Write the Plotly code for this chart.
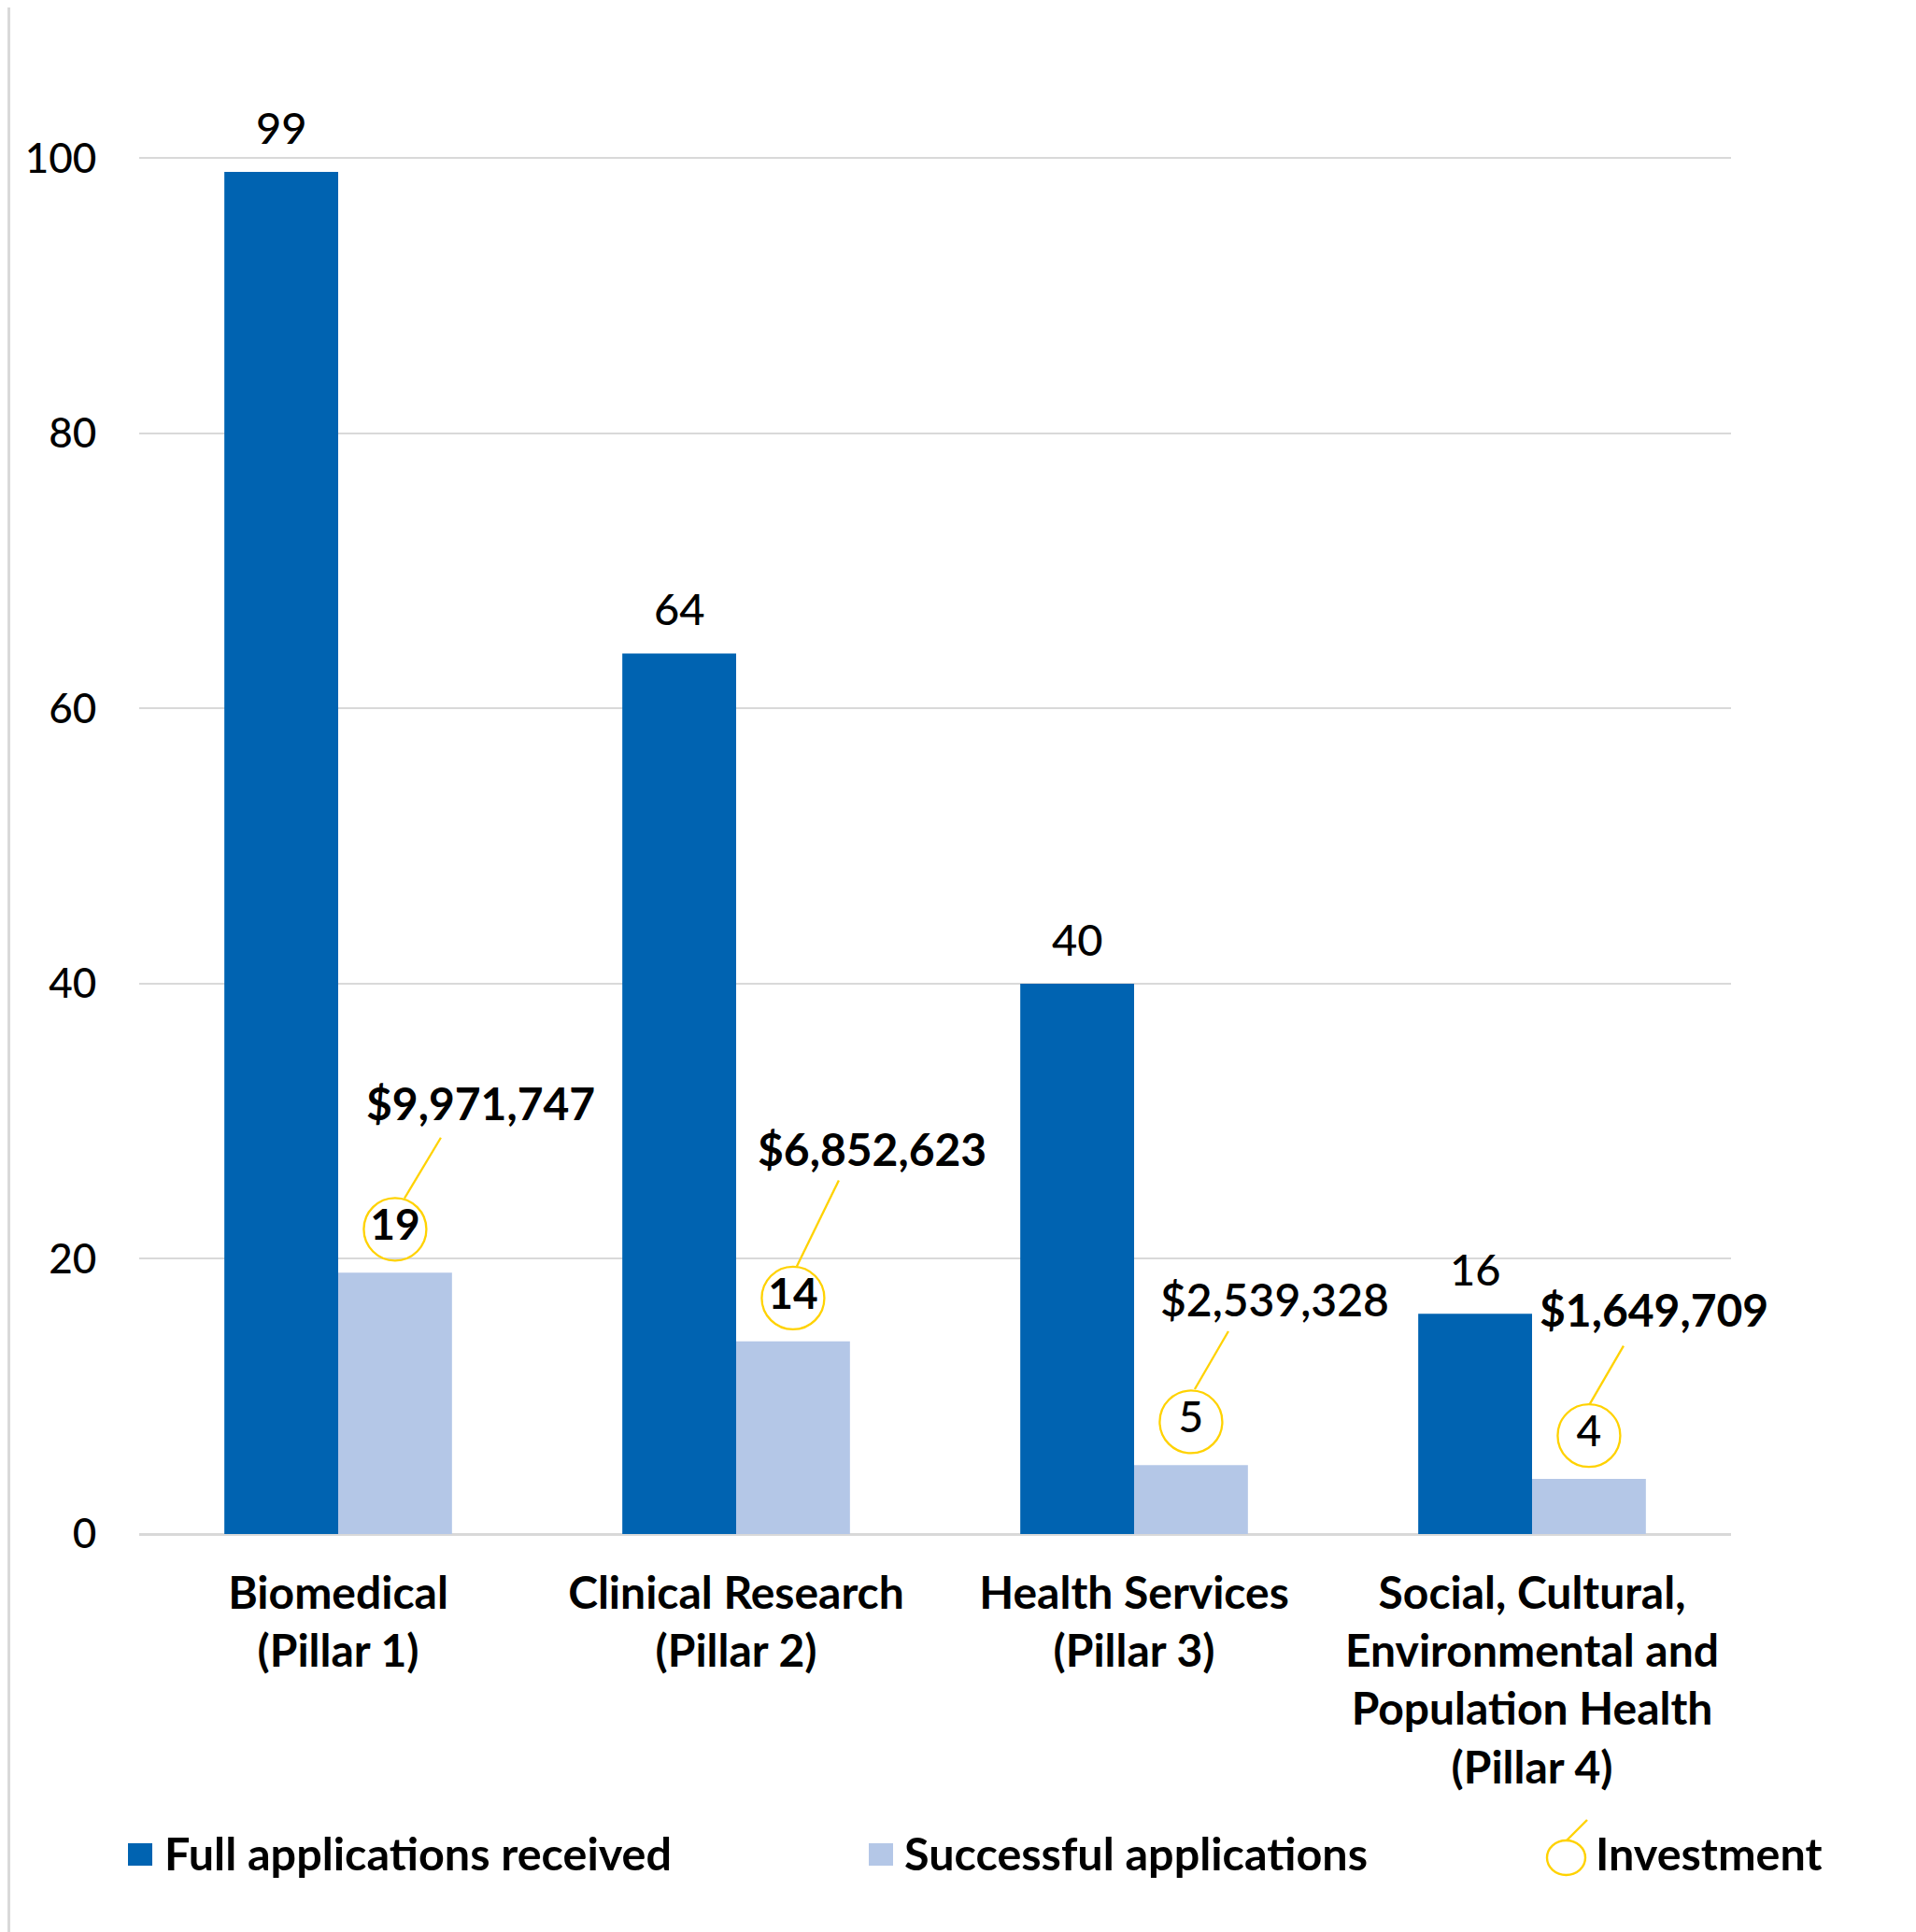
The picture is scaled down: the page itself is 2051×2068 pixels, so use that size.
import plotly.graph_objects as go

# ---------------- data ----------------
categories = [
    "Biomedical<br>(Pillar 1)",
    "Clinical Research<br>(Pillar 2)",
    "Health Services<br>(Pillar 3)",
    "Social, Cultural,<br>Environmental and<br>Population Health<br>(Pillar 4)",
]
full_apps = [99, 64, 40, 16]
successful_apps = [19, 14, 5, 4]
investment = ["$9,971,747", "$6,852,623", "$2,539,328", "$1,649,709"]
y_ticks = [0, 20, 40, 60, 80, 100]
legend_names = ["Full applications received", "Successful applications", "Investment"]

# ---------------- style ----------------
OFF = 8                       # page body margin of the browser
W, H = 2051 - OFF, 2068 - OFF
ML, MT = 149 - OFF, 167 - OFF
PLOT_R, PLOT_B = 1853 - OFF, 1642 - OFF
MR, MB = W - PLOT_R, H - PLOT_B
PW, PH = PLOT_R - ML, PLOT_B - MT
DARK = "#0063B1"
LIGHT = "#B4C7E7"
GOLD = "#FFD200"
GRID = "#D9D9D9"
FONT = "Lato, 'Open Sans', sans-serif"
BAR_W = 0.286
CIRCLE_LIFT = 3.15            # data units above the light bar
label_offsets = [(92, 135), (85, 160), (90, 131), (70, 135)]     # px from circle centre
line_offsets = [((10, 33), (49, 98)), ((4, 34), (49, 126)),
                ((4, 35), (40, 97)), ((1, 34), (37, 96))]
circle_weights = [700, 700, 500, 500]
money_weights = [700, 700, 600, 700]


def px(xs_):
    """screen x (reference) -> paper"""
    return (xs_ - OFF - ML) / PW


def py(ys_):
    """screen y (reference) -> paper"""
    return (PLOT_B - (ys_ - OFF)) / PH


xs = list(range(len(categories)))
light_x = [x + BAR_W / 2 for x in xs]
circle_y = [v + CIRCLE_LIFT for v in successful_apps]

fig = go.Figure()
fig.add_trace(go.Bar(
    x=xs, y=full_apps, width=BAR_W, offset=-BAR_W, marker_color=DARK,
    marker_line_width=0, name=legend_names[0], showlegend=False,
))
fig.add_trace(go.Bar(
    x=xs, y=successful_apps, width=BAR_W, offset=0, marker_color=LIGHT,
    marker_line_width=0, name=legend_names[1], showlegend=False,
))
fig.add_trace(go.Scatter(
    x=light_x, y=circle_y, mode="markers+text",
    text=[str(v) for v in successful_apps], textposition="middle center",
    textfont=dict(family=FONT, size=46, color="black", weight=circle_weights),
    marker=dict(symbol="circle-open", size=67, color=GOLD, line=dict(width=2.3, color=GOLD)),
    cliponaxis=False, showlegend=False, name=legend_names[2], hoverinfo="skip",
))

annotations = []
shapes = []
# value labels above the dark bars
for x, v in zip(xs, full_apps):
    annotations.append(dict(
        x=x - BAR_W / 2, y=v, xref="x", yref="y", text=str(v), showarrow=False,
        yanchor="middle", yshift=48,
        font=dict(family=FONT, size=47, color="black", weight=500),
    ))
# investment labels + leader lines
for i, (x, y, txt) in enumerate(zip(light_x, circle_y, investment)):
    dx, dy = label_offsets[i]
    annotations.append(dict(
        x=x, y=y, xref="x", yref="y", text=txt, showarrow=False,
        xanchor="center", yanchor="middle", xshift=dx, yshift=dy,
        font=dict(family=FONT, size=48, color="black", weight=money_weights[i]),
    ))
    (a0, b0), (a1, b1) = line_offsets[i]
    shapes.append(dict(
        type="line", xref="x", yref="y", xsizemode="pixel", ysizemode="pixel",
        xanchor=x, yanchor=y, x0=a0, x1=a1, y0=b0, y1=b1,
        line=dict(color=GOLD, width=2.3),
    ))

# ---------------- manual legend ----------------
LEG_Y = 1983
shapes.append(dict(type="rect", xref="paper", yref="paper",
                   x0=px(137), x1=px(163), y0=py(1973), y1=py(1997),
                   fillcolor=DARK, line_width=0))
shapes.append(dict(type="rect", xref="paper", yref="paper",
                   x0=px(930), x1=px(956), y0=py(1973), y1=py(1997),
                   fillcolor=LIGHT, line_width=0))
shapes.append(dict(type="circle", xref="paper", yref="paper",
                   x0=px(1656), x1=px(1697), y0=py(1970), y1=py(2007),
                   line=dict(color=GOLD, width=2.4)))
shapes.append(dict(type="line", xref="paper", yref="paper",
                   x0=px(1677), x1=px(1699), y0=py(1970), y1=py(1948),
                   line=dict(color=GOLD, width=2.4)))
for name, xstart in zip(legend_names, [174, 966, 1706]):
    annotations.append(dict(
        x=px(xstart), y=py(LEG_Y), xref="paper", yref="paper", text=name,
        showarrow=False, xanchor="left", yanchor="middle",
        font=dict(family=FONT, size=48.5, color="black", weight=700),
    ))

# left border line (as close to the page edge as the figure allows)
shapes.append(dict(type="line", xref="paper", yref="paper",
                   x0=px(OFF + 1.5), x1=px(OFF + 1.5), y0=py(OFF), y1=py(H + OFF),
                   line=dict(color=GRID, width=3)))

fig.update_layout(
    width=W, height=H, margin=dict(l=ML, r=MR, t=MT, b=MB, autoexpand=False),
    paper_bgcolor="white", plot_bgcolor="white", barmode="overlay",
    showlegend=False, annotations=annotations, shapes=shapes,
    font=dict(family=FONT, color="black"),
)
fig.update_xaxes(
    range=[-0.5, len(categories) - 0.5], tickvals=xs, ticktext=categories,
    showgrid=False, zeroline=False, showline=False,
    ticks="outside", ticklen=21, tickcolor="rgba(0,0,0,0)",
    tickfont=dict(family=FONT, size=48, color="black", weight=700),
)
fig.update_yaxes(
    range=[0, 100.15], tickvals=y_ticks, showgrid=True, gridcolor=GRID, gridwidth=2.3,
    zeroline=True, zerolinecolor=GRID, zerolinewidth=2.6, showline=False,
    ticks="outside", ticklen=36, tickcolor="rgba(0,0,0,0)",
    tickfont=dict(family=FONT, size=44, color="black", weight=500),
)

fig.write_html("out.html")
